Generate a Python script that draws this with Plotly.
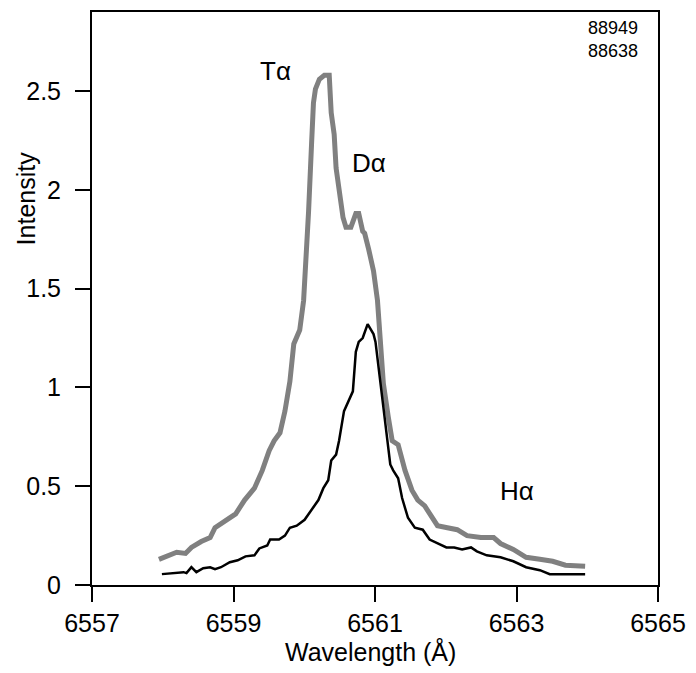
import plotly.graph_objects as go

# Tritium/Deuterium (grey, thick) spectrum
td_wavelength = [6557.946, 6558.085, 6558.197, 6558.322, 6558.405, 6558.544, 6558.670, 6558.739,
                 6558.920, 6559.031, 6559.157, 6559.296, 6559.407, 6559.504, 6559.574, 6559.657,
                 6559.727, 6559.797, 6559.852, 6559.936, 6559.991, 6560.033, 6560.061, 6560.103,
                 6560.130, 6560.158, 6560.214, 6560.284, 6560.353, 6560.381, 6560.423, 6560.450,
                 6560.492, 6560.548, 6560.590, 6560.659, 6560.729, 6560.770, 6560.826, 6560.854,
                 6560.910, 6560.979, 6561.035, 6561.077, 6561.118, 6561.188, 6561.243, 6561.327,
                 6561.424, 6561.522, 6561.605, 6561.703, 6561.800, 6561.883, 6562.023, 6562.162,
                 6562.301, 6562.496, 6562.677, 6562.774, 6562.955, 6563.136, 6563.330, 6563.511,
                 6563.692, 6563.970]
td_intensity = [0.13, 0.15, 0.166, 0.16, 0.19, 0.22, 0.24, 0.29,
                0.33, 0.36, 0.43, 0.49, 0.58, 0.68, 0.73, 0.77,
                0.88, 1.03, 1.22, 1.29, 1.44, 1.69, 1.89, 2.23,
                2.44, 2.51, 2.56, 2.58, 2.58, 2.39, 2.28, 2.11,
                1.98, 1.86, 1.81, 1.81, 1.88, 1.88, 1.79, 1.78,
                1.70, 1.59, 1.44, 1.18, 1.02, 0.85, 0.73, 0.71,
                0.58, 0.48, 0.43, 0.40, 0.34, 0.30, 0.29, 0.28,
                0.25, 0.24, 0.24, 0.21, 0.18, 0.14, 0.13, 0.12,
                0.10, 0.095]

# Hydrogen (black, thin) spectrum
h_wavelength = [6557.988, 6558.224, 6558.294, 6558.336, 6558.405, 6558.475, 6558.572, 6558.670,
                6558.739, 6558.823, 6558.948, 6559.059, 6559.170, 6559.296, 6559.365, 6559.477,
                6559.518, 6559.643, 6559.727, 6559.797, 6559.894, 6560.005, 6560.103, 6560.200,
                6560.270, 6560.339, 6560.381, 6560.450, 6560.492, 6560.562, 6560.687, 6560.729,
                6560.770, 6560.826, 6560.896, 6560.979, 6561.007, 6561.077, 6561.174, 6561.216,
                6561.257, 6561.327, 6561.383, 6561.466, 6561.563, 6561.675, 6561.772, 6561.883,
                6562.009, 6562.120, 6562.231, 6562.357, 6562.440, 6562.579, 6562.774, 6562.955,
                6563.136, 6563.330, 6563.470, 6563.790, 6563.970]
h_intensity = [0.055, 0.06, 0.065, 0.06, 0.09, 0.065, 0.085, 0.09,
               0.08, 0.09, 0.115, 0.125, 0.145, 0.15, 0.185, 0.20,
               0.23, 0.23, 0.25, 0.29, 0.30, 0.33, 0.38, 0.43,
               0.49, 0.53, 0.63, 0.66, 0.73, 0.88, 0.98, 1.18,
               1.23, 1.25, 1.32, 1.27, 1.23, 1.02, 0.75, 0.61,
               0.58, 0.54, 0.44, 0.34, 0.29, 0.28, 0.23, 0.21,
               0.19, 0.19, 0.18, 0.19, 0.17, 0.15, 0.14, 0.12,
               0.09, 0.075, 0.055, 0.055, 0.055]

x_ticks = [6557, 6559, 6561, 6563, 6565]
y_ticks = [0, 0.5, 1, 1.5, 2, 2.5]
y_tick_labels = ["0", "0.5", "1", "1.5", "2", "2.5"]

line_labels = ["Tα", "Dα", "Hα"]
label_x = [6559.59, 6560.91, 6563.01]
label_y = [2.60, 2.137, 0.474]
shot_numbers = ["88949", "88638"]

FONT = "Liberation Sans, Arial, sans-serif"

PL, PT, PW, PH = 92, 10, 575, 575  # plot area in window pixels
W, H = 696, 673

fig = go.Figure()
fig.add_trace(go.Scatter(x=td_wavelength, y=td_intensity, mode="lines",
                         line=dict(color="#808080", width=5), showlegend=False))
fig.add_trace(go.Scatter(x=h_wavelength, y=h_intensity, mode="lines",
                         line=dict(color="black", width=2.5), showlegend=False))

axis_common = dict(showline=True, linecolor="black", linewidth=2, mirror=True,
                   ticks="outside", ticklen=15, tickwidth=2, tickcolor="black",
                   showgrid=False, zeroline=False, ticklabeloverflow="allow",
                   tickfont=dict(family=FONT, size=25, color="black"))

fig.update_xaxes(range=[6557, 6565], tickvals=x_ticks, ticklabelstandoff=0, **axis_common)
fig.update_yaxes(range=[0, 2.9], tickvals=y_ticks, ticktext=y_tick_labels,
                 ticklabelstandoff=9, **axis_common)

for t, xv, yv in zip(line_labels, label_x, label_y):
    fig.add_annotation(x=xv, y=yv, text=t, showarrow=False, xanchor="center", yanchor="middle",
                       font=dict(family=FONT, size=26, color="black"))

fig.add_annotation(x=6564.37, y=2.762, text="<br>".join(shot_numbers), showarrow=False,
                   xanchor="center", yanchor="middle",
                   font=dict(family=FONT, size=18, color="black"))

fig.add_annotation(xref="paper", yref="paper", x=(375 - PL) / PW, y=-(652 - (PT + PH)) / PH,
                   xanchor="center", yanchor="middle",
                   text="Wavelength (Å)", showarrow=False,
                   font=dict(family=FONT, size=25, color="black"))
fig.add_annotation(xref="paper", yref="paper", x=(25 - PL) / PW, y=((PT + PH) - 197) / PH,
                   xanchor="center", yanchor="middle",
                   text="Intensity", textangle=-90, showarrow=False,
                   font=dict(family=FONT, size=25, color="black"))

fig.update_layout(width=W, height=H, autosize=False,
                  margin=dict(l=PL, r=W - PL - PW, t=PT, b=H - PT - PH),
                  paper_bgcolor="white", plot_bgcolor="white")

fig.write_html("out.html",
               config={"responsive": False, "displayModeBar": False},
               post_script="document.body.style.margin='0';document.body.style.overflow='hidden';")
